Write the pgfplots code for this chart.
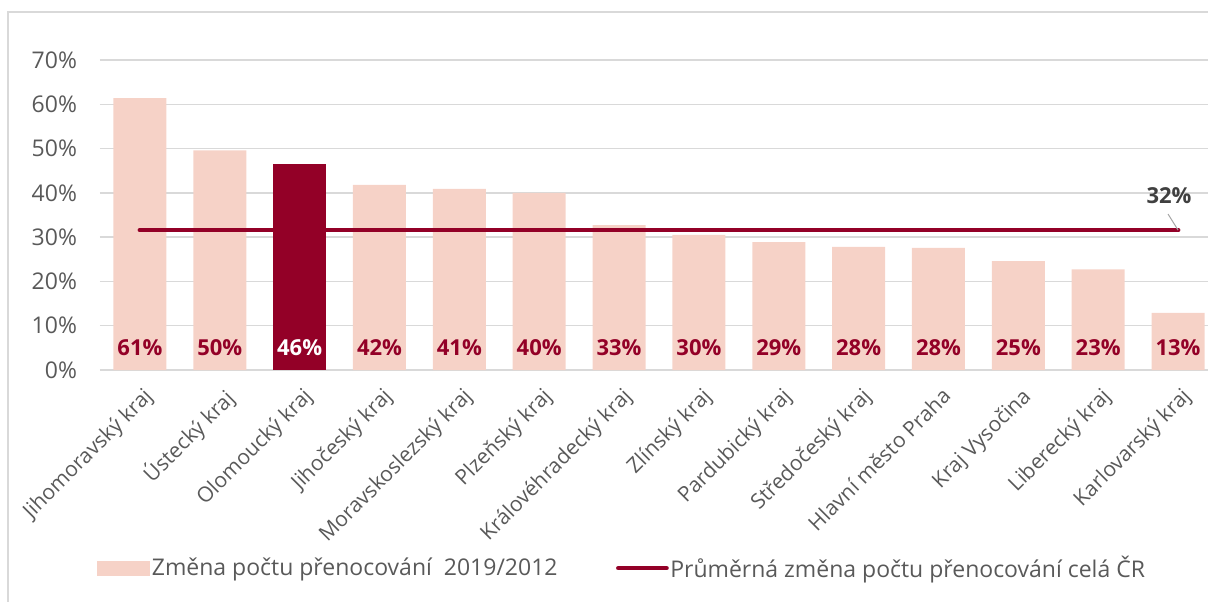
\documentclass[border=0pt]{standalone}
\usepackage{fontspec}
\setmainfont{Open Sans}
\usepackage{pgfplots}
\pgfplotsset{compat=1.18}
\definecolor{barpink}{HTML}{F6D2C7}
\definecolor{darkred}{HTML}{930027}
\definecolor{gridgray}{HTML}{D9D9D9}
\definecolor{textgray}{HTML}{595959}
\definecolor{labgray}{HTML}{404040}
\pgfplotsset{
  patchlegend/.style={legend image code/.code={\fill[##1] (0pt,-3.75pt) rectangle (26.5pt,3.75pt);}},
  linelegend/.style={legend image code/.code={\draw[##1] (0pt,0pt) -- (24pt,0pt);}},
}

\begin{document}
\begin{tikzpicture}
\begin{axis}[
  scale only axis, width=554pt, height=155pt,
  xmin=-0.5, xmax=13.375, ymin=0, ymax=70,
  axis line style={draw=none},
  ymajorgrids, grid style={gridgray, line width=0.75pt},
  major tick length=0pt,
  ytick={0,10,...,70},
  yticklabel={\pgfmathprintnumber{\tick}\%},
  /pgf/number format/assume math mode=true,
  yticklabel style={font=\fontsize{11.5}{13}\selectfont, text=textgray, anchor=east, xshift=-8pt},
  xtick={0,...,13},
  xticklabels={Jihomoravský kraj, Ústecký kraj, Olomoucký kraj, Jihočeský kraj,
    Moravskoslezský kraj, Plzeňský kraj, Královéhradecký kraj, Zlínský kraj,
    Pardubický kraj, Středočeský kraj, Hlavní město Praha, Kraj Vysočina,
    Liberecký kraj, Karlovarský kraj},
  xticklabel style={font=\fontsize{10.5}{12}\selectfont, text=textgray, rotate=45,
    anchor=north east, xshift=-1.5pt, yshift=-3pt},
  legend style={at={(-0.0027,-0.639)}, anchor=west, legend columns=2,
    draw=none, fill=none, inner sep=0pt,
    font=\fontsize{11.5}{13}\selectfont, text=textgray,
    nodes={inner sep=0.75pt},
    /tikz/every even column/.append style={column sep=28.5pt}},
  legend cell align=left,
  clip=false,
]
% regions, Olomoucky highlighted separately
\addplot[ybar, bar width=26.5pt, bar shift=0pt, fill=barpink, draw=none, patchlegend]
  coordinates {(0,61.4) (1,49.6) (3,41.8) (4,40.9) (5,40.0) (6,32.7)
    (7,30.5) (8,28.9) (9,27.8) (10,27.6) (11,24.6) (12,22.7) (13,12.9)};
\addlegendentry{Změna počtu přenocování~ 2019/2012}
\addplot[ybar, bar width=26.5pt, bar shift=0pt, fill=darkred, draw=none, forget plot]
  coordinates {(2,46.5)};
% national average
\addplot[darkred, line width=2.4pt, line cap=round, linelegend]
  coordinates {(0,31.6) (13,31.6)};
\addlegendentry{Průměrná změna počtu přenocování celá ČR}
% value labels
\addplot[draw=none, mark=none, forget plot, nodes near coords={\pgfplotspointmeta\%},
  point meta=explicit symbolic,
  nodes near coords style={font=\bfseries\fontsize{11}{13}\selectfont, text=darkred, anchor=center}]
  coordinates {(0,5)[61] (1,5)[50] (3,5)[42] (4,5)[41] (5,5)[40] (6,5)[33]
    (7,5)[30] (8,5)[29] (9,5)[28] (10,5)[28] (11,5)[25] (12,5)[23] (13,5)[13]};
\addplot[draw=none, mark=none, forget plot, nodes near coords={\pgfplotspointmeta\%},
  point meta=explicit symbolic,
  nodes near coords style={font=\bfseries\fontsize{11}{13}\selectfont, text=white, anchor=center}]
  coordinates {(2,5)[46]};
\draw[gray!70, line width=0.5pt] (axis cs:13,31.6) -- ++(-5pt,8pt);
\node[font=\bfseries\fontsize{11}{13}\selectfont, text=labgray] at (axis cs:13,31.6) [xshift=-4.5pt, yshift=17pt] {32\%};
\end{axis}
\draw[gridgray, line width=0.75pt] (-46pt,-120pt) -- (-46pt,179pt) -- (600pt,179pt);
\pgfresetboundingbox
\path[use as bounding box] (-50pt,-115.5pt) rectangle (554pt,185pt);
\end{tikzpicture}
\end{document}
